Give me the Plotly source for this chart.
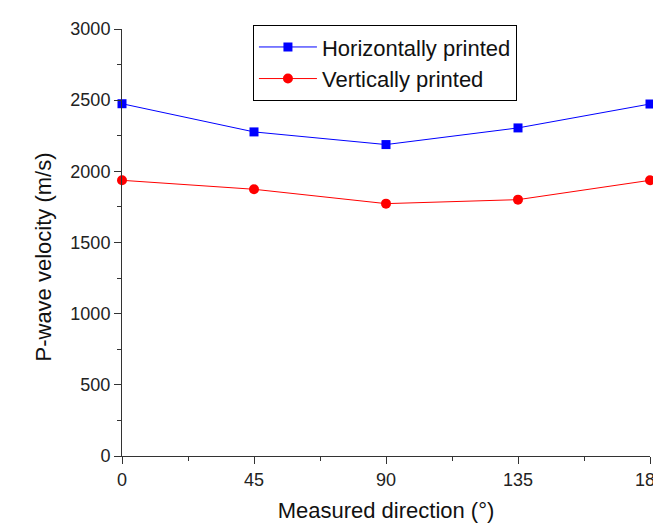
import plotly.graph_objects as go

directions = [0, 45, 90, 135, 180]
horizontal = [2475, 2277, 2188, 2305, 2473]
vertical = [1937, 1874, 1773, 1801, 1937]
x_ticks = [0, 45, 90, 135, 180]
y_ticks = [0, 500, 1000, 1500, 2000, 2500, 3000]

fig = go.Figure()
fig.add_trace(go.Scatter(x=directions, y=horizontal, mode="lines+markers",
                         name="Horizontally printed", cliponaxis=False,
                         line=dict(color="#0000ff", width=1),
                         marker=dict(symbol="square", size=9, color="#0000ff")))
fig.add_trace(go.Scatter(x=directions, y=vertical, mode="lines+markers",
                         name="Vertically printed", cliponaxis=False,
                         line=dict(color="#ff0000", width=1),
                         marker=dict(symbol="circle", size=10, color="#ff0000")))

font = "Arial, Liberation Sans, sans-serif"
fig.update_layout(
    width=653, height=523,
    margin=dict(l=122, r=3, t=29, b=67, autoexpand=False),
    plot_bgcolor="white", paper_bgcolor="white",
    font=dict(family=font, size=18, color="#222"),
    showlegend=True,
    legend=dict(x=0.248, y=1.009, xanchor="left", yanchor="top",
                bordercolor="black", borderwidth=1, bgcolor="white",
                font=dict(size=22, color="#111"), tracegroupgap=0,
                itemwidth=58),
    annotations=[dict(text="P-wave velocity (m/s)", textangle=-90,
                      xref="paper", yref="paper", x=-0.1487, y=0.466,
                      xanchor="center", yanchor="middle", showarrow=False,
                      font=dict(size=22, color="#111"))],
)
fig.update_xaxes(range=[0, 180], tickvals=x_ticks, ticks="outside", ticklen=7,
                 tickwidth=1, tickcolor="#333", showline=True, linecolor="#333",
                 linewidth=1, showgrid=False, zeroline=False, automargin=False,
                 ticklabeloverflow="allow",
                 minor=dict(dtick=22.5, ticks="outside", ticklen=4, tickcolor="#333"),
                 title=dict(text="Measured direction (°)", font=dict(size=22, color="#111"),
                            standoff=15))
fig.update_yaxes(range=[0, 3000], tickvals=y_ticks, ticks="outside", ticklen=7,
                 tickwidth=1, tickcolor="#333", showline=True, linecolor="#333",
                 linewidth=1, showgrid=False, zeroline=False, automargin=False,
                 minor=dict(dtick=250, ticks="outside", ticklen=4, tickcolor="#333"))

fig.write_html("out.html", config={"displayModeBar": False},
               post_script="document.body.style.margin='0';document.body.style.overflow='hidden';")
